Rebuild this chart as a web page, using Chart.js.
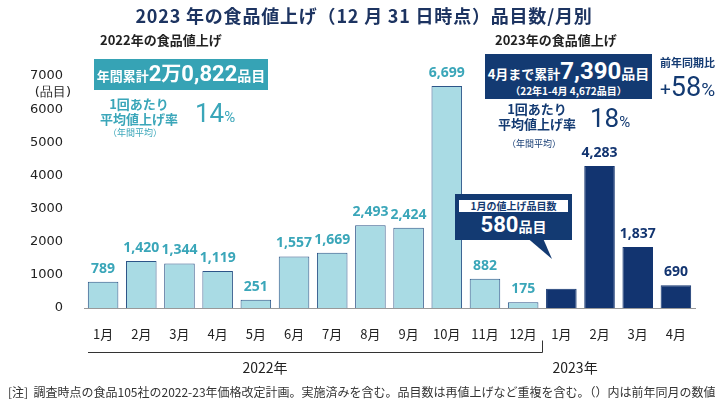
<!DOCTYPE html>
<html>
<head>
<meta charset="utf-8">
<script src="https://cdn.jsdelivr.net/npm/chart.js@4.4.0/dist/chart.umd.min.js"></script>
<style>
  body { margin: 0; background: #fff; font-family: "Noto Sans CJK JP", sans-serif; }
  #wrap { position: relative; width: 728px; height: 404px; overflow: hidden; }
  #chart { position: absolute; left: 0; top: 0; }
  .ov { position: absolute; white-space: nowrap; font-weight: bold; line-height: 1; }
  .num { font-family: Roboto, sans-serif; }
  .title { left: 0; width: 728px; top: 6px; text-align: center; font-size: 18px; color: #1d3461; letter-spacing: 0.8px; }
  .sub { font-size: 13px; color: #222; top: 33px; }
  .boxL { left: 94px; top: 59px; width: 174px; height: 31px; background: #36a3b5; color: #fff; text-align: center; }
  .boxR { left: 485px; top: 54px; width: 167px; height: 45px; background: #133a72; color: #fff; text-align: center; }
  .teal { color: #3aa6b9; }
  .navy { color: #133a72; }
  .small { font-size: 9px; font-weight: normal; }
  .callout { left: 455px; top: 194px; width: 113px; height: 42px; border: 2px solid #133a72; background: #133a72; }
  .foot { left: 8px; top: 386px; font-size: 12px; font-weight: normal; color: #333; }
</style>
</head>
<body>
<div id="wrap">
  <canvas id="chart" width="728" height="404"></canvas>

  <div class="ov title">2023 年の食品値上げ（12 月 31 日時点）品目数/月別</div>
  <div class="ov sub" style="left:100px;">2022年の食品値上げ</div>
  <div class="ov sub" style="left:495px;">2023年の食品値上げ</div>

  <div class="ov boxL">
    <div style="margin-top:4px;"><span style="font-size:13px;">年間累計</span><span class="num" style="font-size:22px;">2</span><span style="font-size:20px;">万</span><span class="num" style="font-size:22px;">0,822</span><span style="font-size:14px;">品目</span></div>
  </div>
  <div class="ov teal" style="left:98px;top:96px;width:82px;text-align:center;font-size:13px;line-height:15px;">1回あたり<br>平均値上げ率</div>
  <div class="ov teal small" style="left:108px;top:128px;">（年間平均）</div>
  <div class="ov teal num" style="left:195px;top:100px;font-weight:normal;"><span style="font-size:26px;">14</span><span style="font-size:15px;">%</span></div>

  <div class="ov boxR">
    <div style="margin-top:5px;"><span style="font-size:13px;">4月まで累計</span><span class="num" style="font-size:24px;">7,390</span><span style="font-size:14px;">品目</span></div>
    <div style="font-size:10px;margin-top:3px;">（22年1-4月 4,672品目）</div>
  </div>
  <div class="ov navy" style="left:660px;top:57px;font-size:11px;">前年同期比</div>
  <div class="ov navy num" style="left:660px;top:74px;font-weight:normal;"><span style="font-size:19px;">+</span><span style="font-size:27px;">58</span><span style="font-size:19px;">%</span></div>
  <div class="ov navy" style="left:495px;top:101px;width:84px;text-align:center;font-size:13px;line-height:15px;">1回あたり<br>平均値上げ率</div>
  <div class="ov navy small" style="left:507px;top:139px;">（年間平均）</div>
  <div class="ov navy num" style="left:590px;top:105px;font-weight:normal;"><span style="font-size:26px;">18</span><span style="font-size:15px;">%</span></div>

  <div class="ov callout">
    <div style="background:#fff;margin:4px 2px 0 2px;height:12px;text-align:center;font-size:10px;line-height:12px;color:#133a72;">1月の値上げ品目数</div>
    <div style="text-align:center;color:#fff;margin-top:2px;"><span class="num" style="font-size:22px;">580</span><span style="font-size:14px;">品目</span></div>
  </div>
  <svg class="ov" style="left:520px;top:236px;" width="40" height="26"><polygon points="5,0 22,0 32,23" fill="#133a72"/></svg>

  <div class="ov foot">[注]&nbsp; 調査時点の食品105社の2022-23年価格改定計画。実施済みを含む。品目数は再値上げなど重複を含む。（）内は前年同月の数値</div>
</div>

<script>
const months = ["1月", "2月", "3月", "4月", "5月", "6月", "7月", "8月", "9月", "10月", "11月", "12月", "1月", "2月", "3月", "4月"];
const items = [789, 1420, 1344, 1119, 251, 1557, 1669, 2493, 2424, 6699, 882, 175, 580, 4283, 1837, 690];
const years = ["2022", "2022", "2022", "2022", "2022", "2022", "2022", "2022", "2022", "2022", "2022", "2022", "2023", "2023", "2023", "2023"];
const yTicks = [0, 1000, 2000, 3000, 4000, 5000, 6000, 7000];
const yearLabels = ["2022年", "2023年"];

const light = "#a9dbe4";
const dark = "#123470";

// value labels above bars, y unit and the year bracket
const extras = {
  id: "extras",
  afterDatasetsDraw(chart) {
    const ctx = chart.ctx;
    const meta = chart.getDatasetMeta(0);
    const x = chart.scales.x;
    const y = chart.scales.y;
    ctx.save();
    ctx.textAlign = "center";
    ctx.textBaseline = "bottom";
    ctx.font = "bold 14px 'Open Sans', sans-serif";
    meta.data.forEach((bar, i) => {
      if (i === 12) return; // 2023 Jan is shown in the callout
      ctx.fillStyle = years[i] === "2022" ? "#3aa6b9" : dark;
      ctx.fillText(items[i].toLocaleString("en-US"), bar.x, bar.y - 6);
    });

    ctx.fillStyle = "#222";
    ctx.font = "13px 'DejaVu Sans', sans-serif";
    ctx.textAlign = "right";
    ctx.textBaseline = "middle";
    ctx.fillText("(品目)", 71, y.getPixelForValue(7000) + 17);

    // year bracket
    const last22 = years.lastIndexOf("2022");
    const edge = Math.round((x.getPixelForValue(last22) + x.getPixelForValue(last22 + 1)) / 2) + 0.5;
    const by = 352.5;
    ctx.strokeStyle = "#333";
    ctx.lineWidth = 1;
    ctx.beginPath();
    ctx.moveTo(chart.chartArea.left + 4, by);
    ctx.lineTo(edge, by);
    ctx.lineTo(edge, by - 12);
    ctx.stroke();

    ctx.font = "14px 'Noto Sans CJK JP', sans-serif";
    ctx.textAlign = "center";
    ctx.fillStyle = "#222";
    ctx.fillText(yearLabels[0], x.getPixelForValue(4.24), 368);
    ctx.fillText(yearLabels[1], x.getPixelForValue(12.36), 368);
    ctx.restore();
  }
};

new Chart(document.getElementById("chart"), {
  type: "bar",
  data: {
    labels: months,
    datasets: [{
      data: items,
      backgroundColor: years.map(v => v === "2022" ? light : dark),
      borderColor: years.map(v => v === "2022" ? "#2d5588" : dark),
      borderWidth: 1,
      barPercentage: 0.8,
      categoryPercentage: 1
    }]
  },
  options: {
    responsive: false,
    animation: false,
    layout: { padding: { top: 76, right: 33, bottom: 0 } },
    plugins: { legend: { display: false }, tooltip: { enabled: false } },
    scales: {
      x: {
        afterFit(scale) { scale.height = 96; },
        grid: { display: false },
        border: { display: true, color: "#999" },
        ticks: { color: "#222", font: { size: 13, family: "'Noto Sans CJK JP', sans-serif" }, padding: 10, maxRotation: 0, autoSkip: false }
      },
      y: {
        min: 0,
        max: 7000,
        afterFit(scale) { scale.width = 84; },
        afterBuildTicks(scale) { scale.ticks = yTicks.map(v => ({ value: v })); },
        grid: { display: false },
        border: { display: false },
        ticks: { color: "#222", padding: 13, font: { size: 13, family: "'DejaVu Sans', sans-serif" }, callback: v => String(v) }
      }
    }
  },
  plugins: [extras]
});
</script>
</body>
</html>
